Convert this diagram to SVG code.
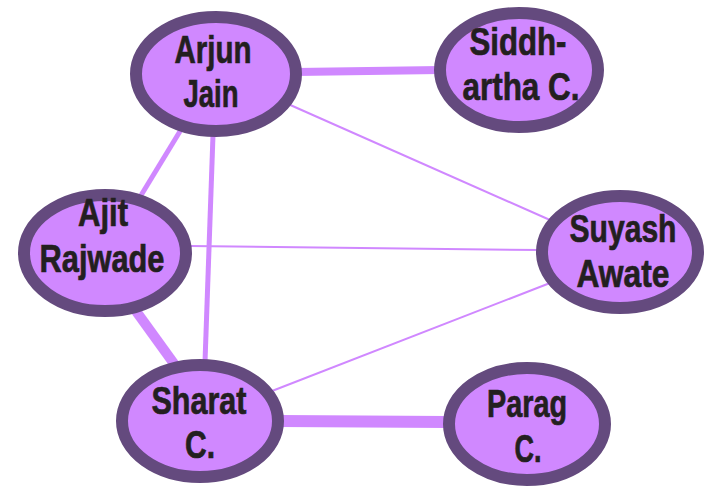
<svg xmlns="http://www.w3.org/2000/svg" width="707" height="488" viewBox="0 0 707 488">
<style>
.node{fill:#D088FF;stroke:#644A7E;stroke-width:12}
.lbl{font-family:"Liberation Sans",Arial,sans-serif;font-weight:bold;font-size:39px;fill:#231F20;stroke:#231F20;stroke-width:0.7;text-anchor:middle}
.e{stroke:#D088FF;fill:none;stroke-linecap:butt}
</style>
<rect width="707" height="488" fill="#fff"/>
<g id="edges">
<line class="e" x1="296" y1="72" x2="440" y2="70" stroke-width="8"/>
<line class="e" x1="288" y1="104" x2="550" y2="220" stroke-width="2"/>
<line class="e" x1="182" y1="128" x2="140" y2="197" stroke-width="5"/>
<line class="e" x1="213" y1="135" x2="205" y2="362" stroke-width="5"/>
<line class="e" x1="190" y1="246" x2="540" y2="250" stroke-width="2"/>
<line class="e" x1="128" y1="300" x2="180" y2="372" stroke-width="10"/>
<line class="e" x1="272" y1="391" x2="550" y2="283" stroke-width="2"/>
<line class="e" x1="280" y1="421" x2="447" y2="422" stroke-width="12"/>
</g>
<g id="arjun">
<ellipse class="node" cx="216" cy="74" rx="80" ry="57"/>
<text class="lbl" x="213" y="63" textLength="77" lengthAdjust="spacingAndGlyphs">Arjun</text>
<text class="lbl" x="211" y="107" textLength="55" lengthAdjust="spacingAndGlyphs">Jain</text>
</g>
<g id="siddhartha">
<ellipse class="node" cx="519" cy="70" rx="79" ry="57"/>
<text class="lbl" x="518" y="55" textLength="97" lengthAdjust="spacingAndGlyphs">Siddh-</text>
<text class="lbl" x="521" y="100" textLength="117" lengthAdjust="spacingAndGlyphs">artha C.</text>
</g>
<g id="ajit">
<ellipse class="node" cx="105" cy="253" rx="81" ry="58"/>
<text class="lbl" x="103" y="226" textLength="50" lengthAdjust="spacingAndGlyphs">Ajit</text>
<text class="lbl" x="102" y="272" textLength="125" lengthAdjust="spacingAndGlyphs">Rajwade</text>
</g>
<g id="suyash">
<ellipse class="node" cx="620" cy="252" rx="78" ry="56"/>
<text class="lbl" x="623" y="242" textLength="107" lengthAdjust="spacingAndGlyphs">Suyash</text>
<text class="lbl" x="623" y="287" textLength="93" lengthAdjust="spacingAndGlyphs">Awate</text>
</g>
<g id="sharat">
<ellipse class="node" cx="200" cy="421" rx="78" ry="56"/>
<text class="lbl" x="199" y="414" textLength="95" lengthAdjust="spacingAndGlyphs">Sharat</text>
<text class="lbl" x="200" y="458" textLength="30" lengthAdjust="spacingAndGlyphs">C.</text>
</g>
<g id="parag">
<ellipse class="node" cx="527" cy="424" rx="78" ry="56"/>
<text class="lbl" x="527" y="417" textLength="80" lengthAdjust="spacingAndGlyphs">Parag</text>
<text class="lbl" x="528" y="462" textLength="27" lengthAdjust="spacingAndGlyphs">C.</text>
</g>
</svg>
